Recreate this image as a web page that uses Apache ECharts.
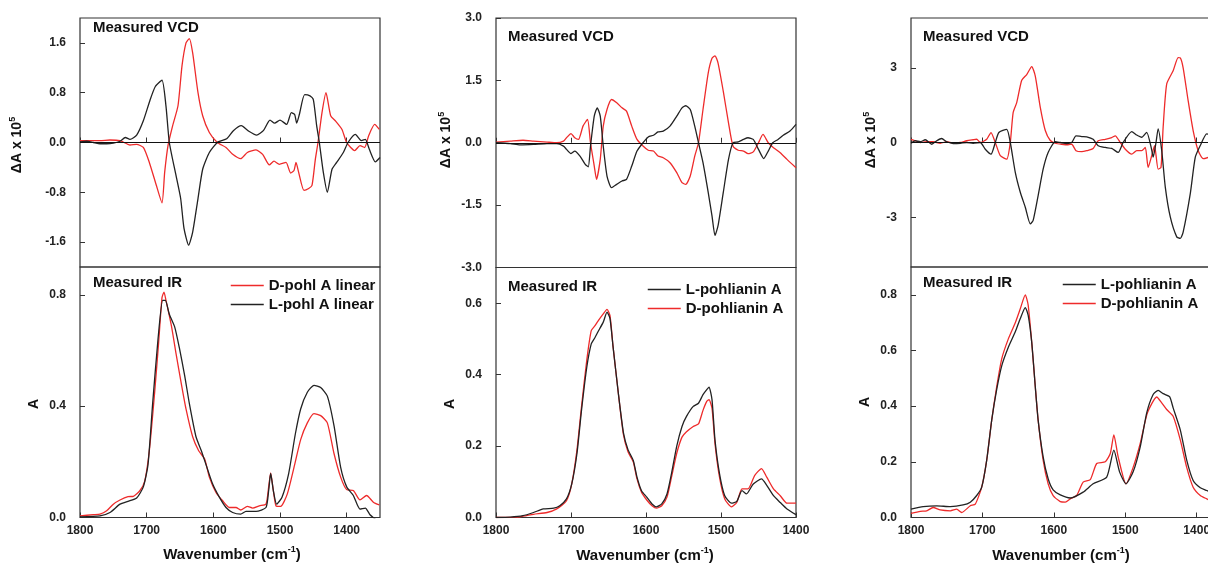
<!DOCTYPE html>
<html>
<head>
<meta charset="utf-8">
<script src="https://cdn.jsdelivr.net/npm/echarts@6/dist/echarts.min.js"></script>
<style>
  html, body { margin: 0; padding: 0; background: #fff; }
  #chart { width: 1208px; height: 568px; }
</style>
</head>
<body>
<div id="chart"></div>
<script>
// ---- tick values ----
var xTicks = [1400, 1500, 1600, 1700, 1800];
var vcdTicks1 = [-1.6, -0.8, 0, 0.8, 1.6];
var vcdTicks2 = [-3, -1.5, 0, 1.5, 3];
var vcdTicks3 = [-3, 0, 3];
var irTicks1 = [0, 0.4, 0.8];
var irTicks2 = [0, 0.2, 0.4, 0.6];
var irTicks3 = [0, 0.2, 0.4, 0.6, 0.8];

// ---- panel 1: pohl A linear, [wavenumber, value] ----
var vcdLinearL = [[1800,0.01],[1790,0.02],[1780,0],[1770,-0.02],[1760,-0.02],[1750,-0.01],[1740,0.02],[1732,0.08],[1725,0.05],[1715,0.12],[1705,0.35],[1695,0.68],[1687,0.9],[1677,1.0],[1671,0.58],[1666,0],[1656,-0.53],[1649,-0.9],[1644,-1.38],[1637,-1.65],[1631,-1.44],[1623,-0.9],[1616,-0.43],[1606,-0.16],[1593,0.01],[1580,0.06],[1570,0.19],[1558,0.27],[1548,0.19],[1535,0.12],[1525,0.19],[1515,0.36],[1508,0.31],[1500,0.36],[1490,0.29],[1483,0.48],[1478,0.45],[1475,0.31],[1471,0.45],[1463,0.77],[1455,0.75],[1450,0.69],[1445,0.27],[1441,0],[1435,-0.48],[1429,-0.8],[1422,-0.43],[1415,-0.32],[1405,-0.16],[1398,0],[1387,0.13],[1378,0.03],[1372,0.05],[1366,-0.11],[1357,-0.31],[1350,-0.24]];
var vcdLinearD = [[1800,0.03],[1770,0.03],[1755,0.04],[1740,0.03],[1725,-0.04],[1715,-0.03],[1705,-0.08],[1696,-0.32],[1686,-0.67],[1677,-0.97],[1673,-0.48],[1668,-0.05],[1661,0.27],[1653,0.59],[1647,1.23],[1641,1.6],[1636,1.67],[1631,1.44],[1623,0.8],[1616,0.43],[1606,0.16],[1594,0],[1581,-0.08],[1571,-0.19],[1559,-0.26],[1549,-0.16],[1536,-0.12],[1526,-0.19],[1516,-0.36],[1509,-0.3],[1501,-0.35],[1491,-0.32],[1484,-0.49],[1479,-0.45],[1476,-0.32],[1472,-0.48],[1464,-0.77],[1457,-0.74],[1452,-0.69],[1447,-0.27],[1443,0],[1437,0.48],[1431,0.8],[1424,0.43],[1417,0.35],[1407,0.21],[1400,0],[1388,-0.13],[1380,-0.05],[1373,-0.08],[1367,0.11],[1358,0.29],[1351,0.21]];
var irLinearD = [[1800,0.006],[1780,0.01],[1770,0.012],[1760,0.024],[1750,0.048],[1740,0.063],[1728,0.075],[1720,0.076],[1710,0.097],[1703,0.13],[1696,0.24],[1688,0.45],[1682,0.63],[1677,0.79],[1674,0.81],[1671,0.78],[1663,0.69],[1656,0.59],[1648,0.48],[1641,0.39],[1631,0.29],[1622,0.24],[1613,0.21],[1606,0.145],[1596,0.09],[1586,0.06],[1576,0.036],[1566,0.036],[1559,0.027],[1549,0.04],[1541,0.034],[1531,0.042],[1521,0.048],[1517,0.11],[1514,0.16],[1510,0.097],[1506,0.042],[1499,0.04],[1489,0.085],[1479,0.18],[1469,0.28],[1459,0.34],[1449,0.373],[1439,0.366],[1429,0.34],[1419,0.23],[1409,0.145],[1400,0.1],[1390,0.097],[1380,0.063],[1370,0.079],[1360,0.055],[1351,0.045]];
var irLinearL = [[1800,0.002],[1770,0.006],[1755,0.018],[1740,0.048],[1728,0.058],[1715,0.07],[1705,0.11],[1698,0.19],[1691,0.41],[1683,0.64],[1676,0.78],[1672,0.78],[1666,0.73],[1658,0.685],[1651,0.61],[1643,0.51],[1636,0.41],[1626,0.29],[1618,0.24],[1611,0.19],[1601,0.12],[1591,0.073],[1581,0.036],[1571,0.018],[1559,0.012],[1551,0.022],[1536,0.022],[1521,0.036],[1517,0.097],[1514,0.158],[1510,0.097],[1505,0.048],[1497,0.073],[1487,0.158],[1477,0.3],[1469,0.39],[1459,0.45],[1449,0.475],[1439,0.467],[1429,0.436],[1419,0.33],[1409,0.18],[1400,0.11],[1390,0.079],[1380,0.03],[1372,0.034],[1365,0.01],[1357,-0.006],[1351,-0.024]];

// ---- panel 2: pohlianin A ----
var vcdPohL = [[1800,0],[1781,-0.02],[1768,-0.05],[1750,-0.04],[1732,-0.02],[1719,-0.02],[1710,-0.08],[1706,-0.16],[1700,-0.26],[1695,-0.2],[1688,-0.32],[1681,-0.52],[1677,-0.58],[1674,-0.08],[1669,0.64],[1665,0.84],[1661,0.64],[1657,-0.08],[1652,-0.8],[1646,-1.08],[1639,-1.0],[1632,-0.92],[1626,-0.88],[1619,-0.56],[1612,-0.2],[1604,0],[1597,0.14],[1590,0.18],[1584,0.26],[1577,0.28],[1568,0.4],[1559,0.64],[1552,0.84],[1547,0.89],[1541,0.8],[1535,0.4],[1530,0],[1524,-0.48],[1517,-1.2],[1512,-1.76],[1508,-2.23],[1504,-2.0],[1497,-1.2],[1490,-0.4],[1484,0],[1477,0.02],[1470,0.08],[1464,0.12],[1457,0.08],[1450,-0.16],[1443,-0.38],[1437,-0.2],[1431,0],[1424,0.08],[1417,0.18],[1408,0.28],[1400,0.44]];
var vcdPohD = [[1800,0.016],[1781,0.04],[1764,0.06],[1750,0.04],[1732,0.016],[1719,0],[1710,0.04],[1706,0.12],[1700,0.22],[1695,0.12],[1690,0.08],[1684,0.4],[1678,0.56],[1674,0],[1669,-0.56],[1666,-0.88],[1661,-0.4],[1657,0.4],[1652,0.8],[1646,1.04],[1639,0.96],[1632,0.84],[1626,0.76],[1619,0.4],[1612,0.08],[1604,-0.08],[1597,-0.18],[1590,-0.2],[1584,-0.32],[1577,-0.36],[1568,-0.48],[1559,-0.72],[1552,-0.96],[1547,-1.0],[1541,-0.8],[1535,-0.32],[1530,0],[1524,0.8],[1517,1.68],[1512,2.03],[1508,2.09],[1504,1.92],[1497,1.24],[1490,0.48],[1484,-0.08],[1477,-0.18],[1470,-0.2],[1464,-0.26],[1457,-0.22],[1450,0],[1444,0.2],[1437,0],[1430,-0.12],[1421,-0.24],[1412,-0.4],[1400,-0.6]];
var irPohL = [[1800,0],[1781,0.001],[1764,0.005],[1750,0.014],[1737,0.024],[1723,0.026],[1715,0.033],[1706,0.052],[1699,0.094],[1692,0.18],[1686,0.3],[1679,0.42],[1673,0.486],[1668,0.504],[1664,0.52],[1657,0.547],[1652,0.575],[1648,0.557],[1644,0.48],[1637,0.35],[1630,0.236],[1624,0.19],[1617,0.16],[1612,0.113],[1606,0.075],[1599,0.057],[1592,0.038],[1586,0.03],[1579,0.038],[1572,0.066],[1566,0.123],[1559,0.2],[1552,0.255],[1546,0.283],[1537,0.311],[1530,0.32],[1524,0.344],[1519,0.358],[1516,0.365],[1512,0.33],[1508,0.217],[1502,0.123],[1495,0.061],[1486,0.04],[1479,0.045],[1472,0.075],[1466,0.066],[1457,0.094],[1446,0.108],[1439,0.09],[1430,0.061],[1421,0.042],[1412,0.024],[1400,0.008]];
var irPohD = [[1800,0],[1768,0.002],[1750,0.009],[1732,0.014],[1719,0.024],[1706,0.047],[1699,0.094],[1692,0.19],[1686,0.31],[1679,0.44],[1673,0.523],[1668,0.537],[1664,0.55],[1657,0.57],[1652,0.583],[1648,0.565],[1644,0.48],[1637,0.35],[1630,0.231],[1624,0.184],[1617,0.156],[1612,0.108],[1606,0.071],[1599,0.049],[1592,0.033],[1586,0.026],[1579,0.033],[1572,0.057],[1566,0.113],[1559,0.18],[1552,0.225],[1546,0.24],[1537,0.255],[1530,0.262],[1524,0.3],[1519,0.325],[1516,0.33],[1512,0.306],[1508,0.207],[1502,0.113],[1495,0.052],[1486,0.03],[1479,0.042],[1472,0.08],[1464,0.08],[1455,0.118],[1446,0.137],[1439,0.113],[1430,0.08],[1421,0.061],[1412,0.04],[1400,0.04]];

// ---- panel 3: pohlianin A (second measurement) ----
var vcdPoh2L = [[1800,-0.03],[1794,0.07],[1787,0.03],[1780,0.11],[1771,-0.07],[1764,0.07],[1757,0.16],[1750,0.03],[1741,-0.04],[1731,-0.03],[1722,0],[1713,-0.03],[1703,0],[1696,-0.27],[1688,-0.47],[1682,0],[1677,0.4],[1666,0.53],[1661,0],[1654,-1.2],[1647,-2.0],[1640,-2.6],[1633,-3.27],[1629,-3.13],[1622,-2.13],[1615,-1.07],[1608,-0.4],[1598,0.03],[1591,0],[1582,-0.04],[1575,0],[1569,0.27],[1561,0.24],[1554,0.23],[1545,0.13],[1538,-0.13],[1528,-0.2],[1519,-0.24],[1510,-0.4],[1503,0],[1491,0.44],[1484,0.3],[1477,0.21],[1470,0.41],[1463,-0.3],[1461,-0.59],[1457,0],[1454,0.55],[1449,-0.32],[1444,-1.79],[1437,-2.99],[1428,-3.79],[1423,-3.85],[1419,-3.6],[1409,-2.05],[1402,-0.59],[1395,-0.12],[1386,0.35],[1380,0.3]];
var vcdPoh2D = [[1800,0.13],[1794,0.07],[1787,0],[1778,0.03],[1769,0.03],[1759,-0.03],[1750,0.03],[1741,-0.03],[1731,0],[1722,0.07],[1713,0.11],[1708,0.13],[1703,0],[1694,0.13],[1688,0.4],[1682,0],[1675,-0.53],[1666,-0.67],[1661,0],[1657,1.2],[1652,1.6],[1645,2.5],[1638,2.73],[1631,3.05],[1626,2.67],[1619,1.41],[1612,0.48],[1605,0.08],[1598,-0.03],[1589,-0.07],[1580,-0.09],[1575,-0.07],[1569,-0.33],[1561,-0.37],[1554,-0.33],[1545,-0.24],[1538,0.07],[1528,0.13],[1519,0.2],[1514,0.27],[1507,0],[1500,-0.27],[1491,-0.47],[1484,-0.33],[1477,-0.33],[1472,-0.2],[1468,-1.0],[1463,-0.53],[1459,-0.13],[1454,-1.07],[1450,-1.0],[1447,0.61],[1442,2.35],[1433,2.88],[1426,3.41],[1423,3.4],[1419,3.0],[1412,1.68],[1405,0.48],[1398,-0.32],[1391,-0.65],[1384,-0.6],[1380,-0.55]];
var irPoh2L = [[1800,0.03],[1783,0.039],[1764,0.042],[1745,0.039],[1727,0.045],[1717,0.055],[1708,0.079],[1701,0.109],[1694,0.206],[1687,0.35],[1680,0.46],[1673,0.545],[1664,0.61],[1654,0.667],[1647,0.715],[1640,0.754],[1636,0.727],[1631,0.63],[1626,0.47],[1622,0.35],[1615,0.218],[1608,0.139],[1601,0.099],[1591,0.081],[1577,0.07],[1559,0.091],[1545,0.121],[1526,0.145],[1516,0.242],[1508,0.164],[1499,0.121],[1489,0.164],[1479,0.255],[1470,0.376],[1461,0.442],[1454,0.457],[1447,0.445],[1438,0.434],[1433,0.394],[1423,0.315],[1414,0.206],[1405,0.133],[1395,0.107],[1386,0.097],[1380,0.09]];
var irPoh2D = [[1800,0.015],[1787,0.022],[1778,0.024],[1769,0.036],[1759,0.027],[1745,0.024],[1736,0.03],[1729,0.018],[1717,0.042],[1710,0.048],[1701,0.109],[1694,0.206],[1687,0.35],[1680,0.47],[1673,0.57],[1664,0.64],[1654,0.7],[1647,0.75],[1640,0.8],[1636,0.764],[1631,0.63],[1626,0.47],[1622,0.35],[1615,0.206],[1608,0.121],[1601,0.079],[1591,0.057],[1584,0.055],[1577,0.067],[1568,0.079],[1559,0.127],[1549,0.136],[1540,0.194],[1528,0.2],[1521,0.23],[1516,0.297],[1510,0.218],[1499,0.121],[1489,0.18],[1479,0.267],[1469,0.376],[1456,0.433],[1449,0.412],[1442,0.388],[1433,0.364],[1423,0.279],[1414,0.18],[1405,0.109],[1395,0.079],[1386,0.067],[1380,0.06]];

var FONT = "'Liberation Sans', Arial, sans-serif";
var RED = '#ee2b2b';
var BLACK = '#222222';

var myChart = echarts.init(document.getElementById('chart'));

function xAxisFor(gridIndex, min, showLabels) {
    return {
        gridIndex: gridIndex, type: 'value', min: min, max: 1800, inverse: true,
        axisLine: {show: false},
        splitLine: {show: false},
        axisTick: {inside: true, length: 5, customValues: xTicks, lineStyle: {color: '#333'}},
        axisLabel: {show: showLabels, customValues: xTicks, margin: 7,
            color: '#222', fontSize: 12, fontWeight: 'bold', fontFamily: FONT,
            formatter: function (v) { return String(v); }}
    };
}

function yAxisFor(gridIndex, min, max, ticks, digits) {
    return {
        gridIndex: gridIndex, type: 'value', min: min, max: max,
        axisLine: {show: false},
        splitLine: {show: false},
        axisTick: {inside: true, length: 5, customValues: ticks, lineStyle: {color: '#333'}},
        axisLabel: {customValues: ticks, margin: 14, color: '#222', fontSize: 12,
            fontWeight: 'bold', fontFamily: FONT,
            formatter: function (v) { return Number(v).toFixed(digits); }}
    };
}

function line(name, data, color, idx, zeroLine) {
    var s = {
        name: name, type: 'line', data: data, xAxisIndex: idx, yAxisIndex: idx,
        symbol: 'none', showSymbol: false, smooth: 0.2,
        lineStyle: {color: color, width: 1.3}, itemStyle: {color: color},
        z: color === RED ? 3 : 4
    };
    if (zeroLine) {
        s.markLine = {silent: true, symbol: 'none', label: {show: false},
            lineStyle: {color: '#111', width: 1.2, type: 'solid'}, data: [{yAxis: 0}]};
    }
    return s;
}

function label(text, x, y, size) {
    return {type: 'text', x: x, y: y, style: {text: text, fill: '#111',
        font: 'bold ' + (size || 15) + 'px ' + FONT, textVerticalAlign: 'middle'}};
}

function yName(x, y) {
    return {type: 'text', x: x, y: y, rotation: Math.PI / 2,
        style: {text: '{a|ΔA x 10}{s|5}', fill: '#111', align: 'center', verticalAlign: 'middle',
            rich: {a: {fontSize: 14, fontWeight: 'bold', fontFamily: FONT, lineHeight: 18, fill: '#111'},
                   s: {fontSize: 9, fontWeight: 'bold', fontFamily: FONT, verticalAlign: 'top', fill: '#111'}}}};
}

function aName(x, y) {
    return {type: 'text', x: x, y: y, rotation: Math.PI / 2,
        style: {text: 'A', fill: '#111', align: 'center', verticalAlign: 'middle',
            font: 'bold 14px ' + FONT}};
}

function xName(x, y) {
    return {type: 'text', x: x, y: y,
        style: {text: '{a|Wavenumber (cm}{s|-1}{a|)}', fill: '#111', align: 'center', verticalAlign: 'middle',
            rich: {a: {fontSize: 15, fontWeight: 'bold', fontFamily: FONT, lineHeight: 20, fill: '#111'},
                   s: {fontSize: 9, fontWeight: 'bold', fontFamily: FONT, verticalAlign: 'top', fill: '#111'}}}};
}

var gridStyle = {show: true, borderColor: '#333', borderWidth: 1.2, backgroundColor: 'transparent',
    containLabel: false, outerBoundsMode: 'none'};

var legendText = {fontSize: 15, fontWeight: 'bold', color: '#111', fontFamily: FONT};
function legendAt(left, top, names) {
    return {left: left, top: top, orient: 'vertical', padding: 0, itemWidth: 33, itemHeight: 14, itemGap: 4,
        data: names, textStyle: legendText, selectedMode: false,
        itemStyle: {opacity: 0}, lineStyle: {width: 1.5}};
}

var option = {
    animation: false,
    backgroundColor: '#fff',
    grid: [
        Object.assign({left: 80, top: 18, width: 300, height: 249}, gridStyle),
        Object.assign({left: 80, top: 267, width: 300, height: 250.5}, gridStyle),
        Object.assign({left: 496, top: 18, width: 300, height: 249.5}, gridStyle),
        Object.assign({left: 496, top: 267.5, width: 300, height: 250}, gridStyle),
        Object.assign({left: 911, top: 18, width: 300, height: 249}, gridStyle),
        Object.assign({left: 911, top: 267, width: 300, height: 250.5}, gridStyle)
    ],
    xAxis: [
        xAxisFor(0, 1350, false), xAxisFor(1, 1350, true),
        xAxisFor(2, 1400, false), xAxisFor(3, 1400, true),
        xAxisFor(4, 1380, false), xAxisFor(5, 1380, true)
    ],
    yAxis: [
        yAxisFor(0, -2, 2, vcdTicks1, 1), yAxisFor(1, 0, 0.9, irTicks1, 1),
        yAxisFor(2, -3, 3, vcdTicks2, 1), yAxisFor(3, 0, 0.7, irTicks2, 1),
        yAxisFor(4, -5, 5, vcdTicks3, 0), yAxisFor(5, 0, 0.9, irTicks3, 1)
    ],
    legend: [
        legendAt(230, 278, ['D-pohl A linear', 'L-pohl A linear']),
        legendAt(647, 282, ['L-pohlianin A', 'D-pohlianin A']),
        legendAt(1062, 277, ['L-pohlianin A', 'D-pohlianin A'])
    ],
    series: [
        line('D-pohl A linear (VCD)', vcdLinearD, RED, 0, false),
        line('L-pohl A linear (VCD)', vcdLinearL, BLACK, 0, true),
        line('D-pohl A linear', irLinearD, RED, 1, false),
        line('L-pohl A linear', irLinearL, BLACK, 1, false),
        line('D-pohlianin A (VCD)', vcdPohD, RED, 2, false),
        line('L-pohlianin A (VCD)', vcdPohL, BLACK, 2, true),
        line('L-pohlianin A', irPohL, BLACK, 3, false),
        line('D-pohlianin A', irPohD, RED, 3, false),
        line('D-pohlianin A (VCD 2)', vcdPoh2D, RED, 4, false),
        line('L-pohlianin A (VCD 2)', vcdPoh2L, BLACK, 4, true),
        line('L-pohlianin A ', irPoh2L, BLACK, 5, false),
        line('D-pohlianin A ', irPoh2D, RED, 5, false)
    ],
    graphic: [
        label('Measured VCD', 93, 28), label('Measured IR', 93, 283),
        label('Measured VCD', 508, 37), label('Measured IR', 508, 287),
        label('Measured VCD', 923, 37), label('Measured IR', 923, 283),
        yName(17, 145), yName(446, 140), yName(871, 140),
        aName(34, 404), aName(450, 404), aName(865, 402),
        xName(232, 555), xName(645, 556), xName(1061, 556)
    ]
};

myChart.setOption(option);
</script>
</body>
</html>
